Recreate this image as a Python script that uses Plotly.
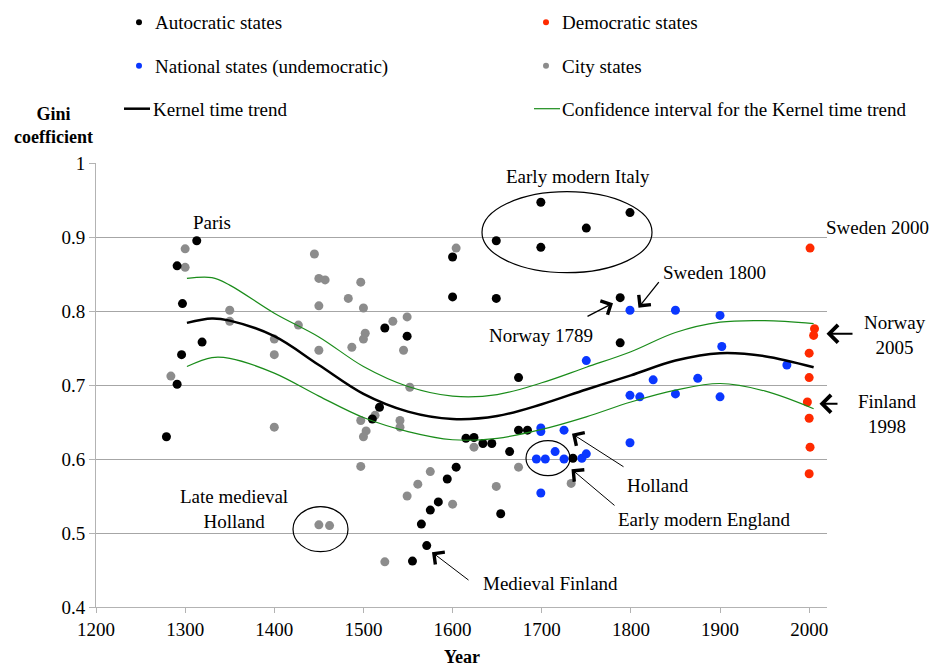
import plotly.graph_objects as go

# ---------------- data ----------------
auto_year = [1313, 1291, 1297, 1319, 1296, 1291, 1279, 1524, 1549, 1600, 1600, 1649, 1649,
             1699, 1699, 1750, 1799, 1788, 1788, 1674, 1518, 1510, 1615, 1624, 1634, 1644,
             1664, 1674, 1684, 1735, 1654, 1604, 1594, 1584, 1575, 1565, 1571, 1555]
auto_gini = [0.895, 0.861, 0.810, 0.758, 0.741, 0.701, 0.630, 0.777, 0.766, 0.873, 0.819, 0.895, 0.817,
             0.947, 0.886, 0.912, 0.933, 0.818, 0.757, 0.710, 0.670, 0.654, 0.628, 0.629, 0.621, 0.621,
             0.610, 0.639, 0.639, 0.601, 0.526, 0.589, 0.573, 0.542, 0.531, 0.512, 0.483, 0.462]

nat_year = [1799, 1850, 1900, 1750, 1902, 1975, 1825, 1875, 1799, 1810, 1850, 1900, 1799,
            1745, 1750, 1699, 1699, 1725, 1694, 1704, 1715, 1725, 1699]
nat_gini = [0.801, 0.801, 0.794, 0.733, 0.752, 0.727, 0.707, 0.709, 0.686, 0.684, 0.688, 0.684, 0.622,
            0.601, 0.607, 0.642, 0.637, 0.639, 0.600, 0.600, 0.610, 0.600, 0.554]

dem_year = [2001, 2006, 2005, 2000, 2000, 1998, 2000, 2001, 2000]
dem_gini = [0.885, 0.776, 0.767, 0.743, 0.710, 0.677, 0.655, 0.616, 0.580]

city_year = [1300, 1300, 1350, 1350, 1284, 1445, 1450, 1457, 1450, 1427, 1400, 1400, 1450, 1400,
             1450, 1462, 1497, 1483, 1500, 1533, 1549, 1502, 1500, 1487, 1545, 1604, 1552, 1513,
             1497, 1541, 1541, 1503, 1500, 1497, 1624, 1674, 1733, 1649, 1575, 1561, 1549, 1600, 1524]
city_gini = [0.884, 0.859, 0.801, 0.786, 0.712, 0.877, 0.844, 0.842, 0.807, 0.781, 0.762, 0.741, 0.747, 0.643,
             0.511, 0.510, 0.839, 0.817, 0.804, 0.786, 0.792, 0.770, 0.762, 0.751, 0.747, 0.885, 0.697, 0.659,
             0.652, 0.652, 0.643, 0.638, 0.630, 0.590, 0.616, 0.589, 0.567, 0.563, 0.583, 0.566, 0.550, 0.539, 0.461]

trend_year = [1302, 1330, 1350, 1400, 1450, 1500, 1550, 1600, 1650, 1700, 1750, 1800, 1850, 1900, 1950, 2005]
trend_mid = [0.784, 0.790, 0.787, 0.766, 0.727, 0.688, 0.664, 0.654, 0.658, 0.674, 0.694, 0.713, 0.733, 0.743, 0.739, 0.724]
trend_up = [0.844, 0.845, 0.835, 0.797, 0.765, 0.725, 0.698, 0.685, 0.687, 0.703, 0.724, 0.745, 0.771, 0.785, 0.787, 0.783]
trend_lo = [0.725, 0.737, 0.736, 0.716, 0.685, 0.656, 0.637, 0.626, 0.628, 0.640, 0.657, 0.677, 0.693, 0.702, 0.692, 0.668]

x_ticks = [1200, 1300, 1400, 1500, 1600, 1700, 1800, 1900, 2000]
y_ticks = [0.4, 0.5, 0.6, 0.7, 0.8, 0.9, 1.0]
y_ticklabels = ["0.4", "0.5", "0.6", "0.7", "0.8", "0.9", "1"]

# ---------------- layout helpers ----------------
W, H = 933, 669
L, R, T, B = 96, 827, 163.3, 607.3
XMIN, XMAX, YMIN, YMAX = 1200, 2020, 0.4, 1.0
FONT = "Times New Roman, Liberation Serif, DejaVu Serif, serif"
BLACK, BLUE, RED, GRAY = "#000000", "#0a37ff", "#ff2a00", "#8c8c8c"
GREEN = "#1a8c1a"


def px2data(px, py):
    return (XMIN + (px - L) / (R - L) * (XMAX - XMIN),
            YMAX - (py - T) / (B - T) * (YMAX - YMIN))


def px2paper(px, py):
    return ((px - L) / (R - L), (B - py) / (B - T))


fig = go.Figure()

msize = 9
fig.add_trace(go.Scatter(x=city_year, y=city_gini, mode="markers",
                         marker=dict(color=GRAY, size=msize), showlegend=False))
fig.add_trace(go.Scatter(x=auto_year, y=auto_gini, mode="markers",
                         marker=dict(color=BLACK, size=msize), showlegend=False))
fig.add_trace(go.Scatter(x=nat_year, y=nat_gini, mode="markers",
                         marker=dict(color=BLUE, size=msize), showlegend=False))
fig.add_trace(go.Scatter(x=dem_year, y=dem_gini, mode="markers",
                         marker=dict(color=RED, size=msize), showlegend=False))
fig.add_trace(go.Scatter(x=trend_year, y=trend_up, mode="lines", line=dict(color=GREEN, width=1.2, shape="spline"),
                         showlegend=False))
fig.add_trace(go.Scatter(x=trend_year, y=trend_lo, mode="lines", line=dict(color=GREEN, width=1.2, shape="spline"),
                         showlegend=False))
fig.add_trace(go.Scatter(x=trend_year, y=trend_mid, mode="lines", line=dict(color=BLACK, width=2.5, shape="spline"),
                         showlegend=False))

shapes = []
# ellipses
for (px0, py0, px1, py1) in [(482, 192, 652, 273), (293, 507, 348, 552), (526, 441, 570, 476)]:
    x0, y0 = px2data(px0, py0)
    x1, y1 = px2data(px1, py1)
    shapes.append(dict(type="circle", xref="x", yref="y", x0=x0, x1=x1, y0=y1, y1=y0,
                       line=dict(color="black", width=1.2)))

# legend markers and lines
for (px, py, col) in [(139, 22.5, BLACK), (546, 22.5, RED), (139, 66, BLUE), (546, 66, GRAY)]:
    xp, yp = px2paper(px, py)
    shapes.append(dict(type="circle", xref="paper", yref="paper", xsizemode="pixel", ysizemode="pixel",
                       xanchor=xp, yanchor=yp, x0=-3, x1=3, y0=-3, y1=3,
                       fillcolor=col, line=dict(width=0)))
for (px0, px1, py, col, w) in [(124, 150, 109, BLACK, 2.5), (534, 560, 109, GREEN, 1.2)]:
    x0, y0 = px2paper(px0, py)
    x1, _ = px2paper(px1, py)
    shapes.append(dict(type="line", xref="paper", yref="paper", x0=x0, x1=x1, y0=y0, y1=y0,
                       line=dict(color=col, width=w)))

ann = []


def text(px, py, s, size=19, xanchor="center", bold=False):
    xp, yp = px2paper(px, py)
    ann.append(dict(xref="paper", yref="paper", x=xp, y=yp, text=(f"<b>{s}</b>" if bold else s),
                    showarrow=False, xanchor=xanchor, yanchor="middle",
                    font=dict(family=FONT, size=size, color="black")))


# legend texts
text(153, 22.5, "Autocratic states", xanchor="left")
text(560, 22.5, "Democratic states", xanchor="left")
text(153, 67, "National states (undemocratic)", xanchor="left")
text(560, 67, "City states", xanchor="left")
text(151, 110, "Kernel time trend", xanchor="left")
text(560, 110, "Confidence interval for the Kernel time trend", xanchor="left")
text(53, 126, "Gini<br>coefficient", size=18, bold=True)
text(462, 657, "Year", size=18, bold=True)

# chart labels
text(212, 223, "Paris")
text(578, 177, "Early modern Italy")
text(878, 228, "Sweden 2000")
text(714, 273, "Sweden 1800")
text(541, 336, "Norway 1789")
text(895, 335, "Norway<br>2005")
text(887, 414, "Finland<br>1998")
text(658, 486, "Holland")
text(704, 520, "Early modern England")
text(234, 509, "Late medieval<br>Holland")
text(550, 584, "Medieval Finland")

# arrows (head pixel, tail pixel)
for (hx, hy, tx, ty, w) in [(613, 303.5, 586, 317.5, 1.3), (638.5, 308, 660, 281, 1.3),
                             (826.5, 334, 854, 334, 2), (819.5, 404, 839, 404, 2),
                             (572, 434, 625, 468, 1), (571.5, 469.5, 616, 507, 1),
                             (432, 552.5, 470, 581.5, 1)]:
    x, y = px2data(hx, hy)
    ann.append(dict(xref="x", yref="y", x=x, y=y, ax=tx - hx, ay=ty - hy, text="",
                    showarrow=True, arrowhead=4, arrowsize=(3.0 / w) if w < 1.5 else 1.7,
                    arrowwidth=w, arrowcolor="black", standoff=0))

fig.update_layout(
    width=W, height=H,
    margin=dict(l=L, r=W - R, t=T, b=H - B, pad=0),
    paper_bgcolor="white", plot_bgcolor="white",
    shapes=shapes, annotations=ann, showlegend=False,
    font=dict(family=FONT, size=19, color="black"),
    xaxis=dict(range=[XMIN, XMAX], tickvals=x_ticks, showgrid=False, zeroline=False,
               showline=True, linecolor="#b3b3b3", linewidth=1,
               ticks="outside", ticklen=5, tickcolor="#b3b3b3",
               tickfont=dict(family=FONT, size=19, color="black")),
    yaxis=dict(range=[YMIN, YMAX], tickvals=y_ticks, ticktext=y_ticklabels,
               showgrid=True, gridcolor="#a6a6a6", gridwidth=1, zeroline=False,
               showline=True, linecolor="#b3b3b3", linewidth=1,
               ticks="outside", ticklen=6, tickcolor="#b3b3b3",
               tickfont=dict(family=FONT, size=19, color="black")),
)

fig.write_html("out.html")
